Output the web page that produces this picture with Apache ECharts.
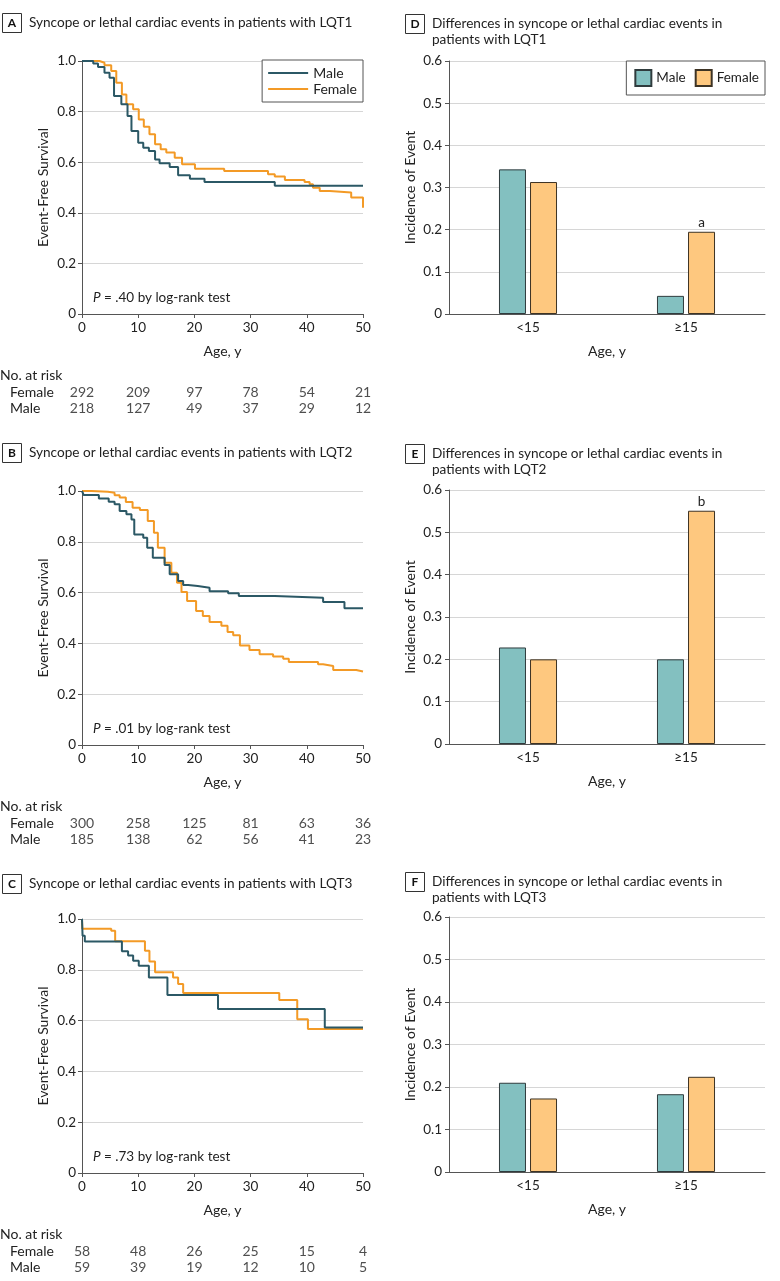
<!DOCTYPE html>
<html><head><meta charset="utf-8">
<script src="https://cdn.jsdelivr.net/npm/echarts@6/dist/echarts.min.js"></script>
<style>html,body{margin:0;padding:0;background:#fff}#c{width:780px;height:1281px}</style>
</head><body><div id="c"></div>
<script>
// ---- data ----
const riskAges = [0, 10, 20, 30, 40, 50];
const riskA_female = [292, 209, 97, 78, 54, 21];
const riskA_male = [218, 127, 49, 37, 29, 12];
const riskB_female = [300, 258, 125, 81, 63, 36];
const riskB_male = [185, 138, 62, 56, 41, 23];
const riskC_female = [58, 48, 26, 25, 15, 4];
const riskC_male = [59, 39, 19, 12, 10, 5];

const maleA_t = [0, 2.0, 2.85, 4.0, 4.9, 5.7, 7.0, 8.1, 8.8, 10.0, 10.9, 11.9, 13.0, 13.8, 15.6, 17.1, 19.2, 21.8, 34.3, 50];
const maleA_s = [1, 0.99, 0.976, 0.954, 0.934, 0.862, 0.829, 0.783, 0.723, 0.677, 0.657, 0.644, 0.611, 0.596, 0.581, 0.548, 0.535, 0.522, 0.507, 0.507];
const femA_t = [0, 3.1, 4.0, 5.2, 6.1, 7.1, 7.9, 9.1, 10.1, 11.0, 12.0, 13.0, 14.0, 15.0, 16.5, 17.8, 20.1, 25.3, 33.1, 34.3, 36.1, 39.6, 40.5, 41.1, 42.3, 44.1, 47.9, 50];
const femA_s = [1, 0.993, 0.983, 0.96, 0.914, 0.868, 0.829, 0.809, 0.769, 0.74, 0.71, 0.671, 0.651, 0.638, 0.618, 0.592, 0.574, 0.565, 0.552, 0.543, 0.53, 0.522, 0.513, 0.499, 0.486, 0.48, 0.46, 0.42];

const maleB_t = [0, 0.3, 3.0, 4.75, 5.8, 6.7, 7.9, 8.8, 9.3, 10.9, 11.6, 12.6, 14.7, 15.6, 17.1, 18.0, 18.9, 20.6, 22.7, 26.0, 27.9, 34.3, 42.9, 46.7, 50];
const maleB_s = [1, 0.984, 0.97, 0.958, 0.948, 0.921, 0.908, 0.888, 0.829, 0.816, 0.777, 0.737, 0.709, 0.672, 0.646, 0.63, 0.626, 0.619, 0.605, 0.597, 0.587, 0.58, 0.563, 0.538, 0.538];
const femB_t = [0, 1.7, 4.6, 5.8, 6.7, 7.8, 9.0, 10.3, 11.7, 12.8, 13.5, 14.7, 15.9, 16.9, 17.7, 18.7, 20.3, 21.5, 22.7, 24.8, 25.9, 26.9, 28.1, 29.8, 31.6, 34.0, 35.8, 36.8, 42.0, 42.9, 44.7, 48.8, 50];
const femB_s = [1, 0.997, 0.993, 0.983, 0.974, 0.957, 0.934, 0.925, 0.882, 0.836, 0.777, 0.718, 0.678, 0.639, 0.602, 0.567, 0.528, 0.508, 0.484, 0.469, 0.445, 0.432, 0.392, 0.374, 0.357, 0.348, 0.34, 0.327, 0.318, 0.311, 0.295, 0.289, 0.289];

const maleC_t = [0, 0.1, 0.5, 7.1, 8.2, 9.1, 10.1, 11.9, 15.2, 24.2, 43.2, 50];
const maleC_s = [1, 0.934, 0.911, 0.873, 0.856, 0.836, 0.816, 0.77, 0.701, 0.646, 0.573, 0.573];
const femC_t = [0, 0.05, 5.2, 5.9, 11.2, 12.0, 13.0, 16.2, 17.1, 18.0, 35.1, 38.3, 40.2, 50];
const femC_s = [1, 0.962, 0.954, 0.912, 0.875, 0.833, 0.79, 0.77, 0.744, 0.709, 0.681, 0.605, 0.567, 0.567];

const barCats = ['<15', '≥15'];
const barD_male = [0.343, 0.043];
const barD_female = [0.313, 0.195];
const barE_male = [0.228, 0.200];
const barE_female = [0.200, 0.551];
const barF_male = [0.210, 0.183];
const barF_female = [0.173, 0.224];
const barD_note = ['', 'a'];
const barE_note = ['', 'b'];
const barF_note = ['', ''];

// ---- styles ----
const FONT = "Lato, 'Liberation Sans', sans-serif";
const TXT = '#222';
const AX = '#555';
const GRIDC = '#d6d6d6';
const MALE = '#2b5865';
const FEMALE = '#f39a26';
const MALE_BAR = '#83c0c0';
const FEMALE_BAR = '#fec87f';

const chart = echarts.init(document.getElementById('c'), null, {renderer: 'canvas'});

const kmTops = [61, 491, 919];
const kmH = [253, 254, 254];
const barTops = [61, 490, 917];
const barH = [253, 254, 255];

const grids = [];
const xAxes = [];
const yAxes = [];
const series = [];

function km(t, s) { return t.map((x, i) => [x, s[i]]); }

const kmData = [
  [km(maleA_t, maleA_s), km(femA_t, femA_s)],
  [km(maleB_t, maleB_s), km(femB_t, femB_s)],
  [km(maleC_t, maleC_s), km(femC_t, femC_s)]
];
const riskData = [
  [riskA_female, riskA_male],
  [riskB_female, riskB_male],
  [riskC_female, riskC_male]
];
const barData = [
  [barD_male, barD_female, barD_note],
  [barE_male, barE_female, barE_note],
  [barF_male, barF_female, barF_note]
];

const axLabel = {color: TXT, fontSize: 13.5, fontFamily: FONT};
const nameStyle = {color: TXT, fontSize: 14, fontFamily: FONT};

// KM panels
for (let p = 0; p < 3; p++) {
  const gi = grids.length;
  grids.push({left: 82, top: kmTops[p], width: 281, height: kmH[p]});
  xAxes.push({
    gridIndex: gi, type: 'value', min: 0, max: 50, interval: 10,
    axisLine: {show: true, lineStyle: {color: AX, width: 1}},
    axisTick: {show: true, length: 4, lineStyle: {color: AX}},
    axisLabel: Object.assign({margin: 7}, axLabel),
    splitLine: {show: false},
    name: 'Age, y', nameLocation: 'middle', nameGap: 30, nameTextStyle: nameStyle
  });
  yAxes.push({
    gridIndex: gi, type: 'value', min: 0, max: 1, interval: 0.2,
    axisLine: {show: true, lineStyle: {color: AX, width: 1}},
    axisTick: {show: true, length: 4, lineStyle: {color: AX}},
    axisLabel: Object.assign({margin: 6, formatter: v => v === 0 ? '0' : v.toFixed(1)}, axLabel),
    splitLine: {show: true, lineStyle: {color: GRIDC, width: 1}},
    name: 'Event-Free Survival', nameLocation: 'middle', nameGap: 32, nameTextStyle: nameStyle
  });
  series.push({
    type: 'line', name: 'Male', xAxisIndex: gi, yAxisIndex: gi, step: 'end',
    symbol: 'none', data: kmData[p][0], lineStyle: {color: MALE, width: 2}, itemStyle: {color: MALE},
    z: 3, animation: false
  });
  series.push({
    type: 'line', name: 'Female', xAxisIndex: gi, yAxisIndex: gi, step: 'end',
    symbol: 'none', data: kmData[p][1], lineStyle: {color: FEMALE, width: 2}, itemStyle: {color: FEMALE},
    z: 2, animation: false
  });
}

// Risk tables
for (let p = 0; p < 3; p++) {
  const gi = grids.length;
  const axisY = kmTops[p] + kmH[p];
  grids.push({left: 82, top: axisY + 70, width: 281, height: 32});
  xAxes.push({gridIndex: gi, type: 'value', min: 0, max: 50, show: false});
  yAxes.push({
    gridIndex: gi, type: 'category', data: ['Female', 'Male'], inverse: true,
    axisLine: {show: false}, axisTick: {show: false}, splitLine: {show: false},
    axisLabel: {interval: 0, align: 'left', margin: 72, color: TXT, fontSize: 14, fontFamily: FONT}
  });
  const rows = ['Female', 'Male'];
  rows.forEach((r, ri) => {
    series.push({
      type: 'scatter', name: 'risk' + p + r, xAxisIndex: gi, yAxisIndex: gi,
      symbolSize: 1, itemStyle: {color: 'rgba(0,0,0,0)'},
      data: riskAges.map((a, i) => [a, r, riskData[p][ri][i]]),
      label: {show: true, position: 'inside', formatter: q => String(q.value[2]), color: TXT, fontSize: 14, fontFamily: FONT},
      silent: true, animation: false
    });
  });
}

// Bar panels
for (let p = 0; p < 3; p++) {
  const gi = grids.length;
  grids.push({left: 449, top: barTops[p], width: 316, height: barH[p]});
  xAxes.push({
    gridIndex: gi, type: 'category', data: barCats,
    axisLine: {show: true, lineStyle: {color: AX, width: 1}},
    axisTick: {show: false},
    axisLabel: Object.assign({margin: 7}, axLabel),
    name: 'Age, y', nameLocation: 'middle', nameGap: 30, nameTextStyle: nameStyle
  });
  yAxes.push({
    gridIndex: gi, type: 'value', min: 0, max: 0.6, interval: 0.1,
    axisLine: {show: true, lineStyle: {color: AX, width: 1}},
    axisTick: {show: true, length: 4, lineStyle: {color: AX}},
    axisLabel: Object.assign({margin: 7, formatter: v => v === 0 ? '0' : v.toFixed(1)}, axLabel),
    splitLine: {show: true, lineStyle: {color: GRIDC, width: 1}},
    name: 'Incidence of Event', nameLocation: 'middle', nameGap: 32, nameTextStyle: nameStyle
  });
  const [m, f, notes] = barData[p];
  series.push({
    type: 'bar', name: 'Male (bar)', xAxisIndex: gi, yAxisIndex: gi,
    barWidth: 27, barGap: '15%', data: m,
    itemStyle: {color: MALE_BAR, borderColor: '#2f3b3d', borderWidth: 1},
    animation: false
  });
  series.push({
    type: 'bar', name: 'Female (bar)', xAxisIndex: gi, yAxisIndex: gi,
    barWidth: 27, barGap: '15%',
    data: f.map((v, i) => notes[i] ? {value: v, label: {show: true, position: 'top', distance: 2, formatter: notes[i], color: TXT, fontSize: 13.5, fontFamily: FONT}} : v),
    itemStyle: {color: FEMALE_BAR, borderColor: '#3d3324', borderWidth: 1},
    animation: false
  });
}

// Titles / annotations
const graphic = [];
function panelTitle(letter, x, y, lines) {
  graphic.push({type: 'rect', left: x, top: y - 10, shape: {width: 19, height: 19}, style: {fill: '#fff', stroke: '#333', lineWidth: 1}});
  graphic.push({type: 'text', x: x + 10, y: y, style: {text: letter, fill: '#111', font: 'bold 12px ' + FONT, textAlign: 'center', textVerticalAlign: 'middle'}});
  lines.forEach((l, i) => {
    graphic.push({type: 'text', x: x + 27, y: y + i * 15.5, style: {text: l, fill: TXT, font: '13.6px ' + FONT, textVerticalAlign: 'middle'}});
  });
}
panelTitle('A', 2, 23, ['Syncope or lethal cardiac events in patients with LQT1']);
panelTitle('B', 2, 453, ['Syncope or lethal cardiac events in patients with LQT2']);
panelTitle('C', 2, 884, ['Syncope or lethal cardiac events in patients with LQT3']);
panelTitle('D', 405, 24, ['Differences in syncope or lethal cardiac events in', 'patients with LQT1']);
panelTitle('E', 405, 454, ['Differences in syncope or lethal cardiac events in', 'patients with LQT2']);
panelTitle('F', 405, 882, ['Differences in syncope or lethal cardiac events in', 'patients with LQT3']);

const pvals = ['.40', '.01', '.73'];
for (let p = 0; p < 3; p++) {
  const axisY = kmTops[p] + kmH[p];
  graphic.push({type: 'text', x: 93, y: axisY - 16, style: {
    text: '{i|P} = ' + pvals[p] + ' by log-rank test',
    rich: {i: {fontStyle: 'italic', fontSize: 13.5, fontFamily: FONT, fill: TXT}},
    fill: TXT, font: '13.5px ' + FONT, textVerticalAlign: 'middle'}});
  graphic.push({type: 'text', x: 0, y: axisY + 61, style: {text: 'No. at risk', fill: TXT, font: '14px ' + FONT, textVerticalAlign: 'middle'}});
}

chart.setOption({
  animation: false,
  textStyle: {fontFamily: FONT, color: TXT},
  grid: grids,
  xAxis: xAxes,
  yAxis: yAxes,
  series: series,
  graphic: graphic,
  legend: [
    {
      data: [{name: 'Male', icon: 'rect'}, {name: 'Female', icon: 'rect'}],
      orient: 'vertical', right: 417, top: 60,
      padding: [5, 6, 5, 6], itemWidth: 40, itemHeight: 2, itemGap: 0,
      borderColor: '#555', borderWidth: 1, backgroundColor: '#fff',
      textStyle: {color: TXT, fontSize: 14, fontFamily: FONT, lineHeight: 16}, selectedMode: false
    },
    {
      data: ['Male (bar)', 'Female (bar)'], orient: 'horizontal', right: 15, top: 61,
      padding: [8, 6, 8, 8], itemWidth: 16, itemHeight: 16, itemGap: 9,
      icon: 'rect',
      formatter: n => n.replace(' (bar)', ''),
      borderColor: '#555', borderWidth: 1, backgroundColor: '#fff',
      textStyle: {color: TXT, fontSize: 13.5, fontFamily: FONT}, selectedMode: false
    }
  ]
});
</script>
</body></html>
